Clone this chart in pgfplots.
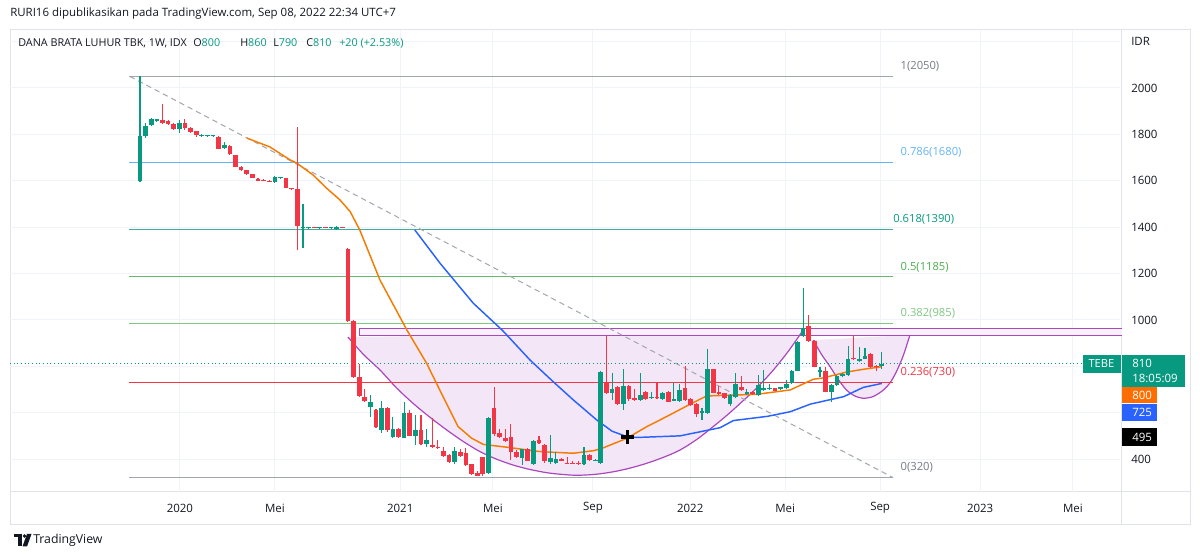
\documentclass[border=0pt]{standalone}
\usepackage{fontspec}
\setmainfont{Open Sans}
\usepackage{pgfplots}
\usepackage{pgfplotstable}
\pgfplotsset{compat=1.18}
\definecolor{tvgreen}{HTML}{089981}
\definecolor{tvred}{HTML}{F23645}
\definecolor{tvorange}{HTML}{F57C00}
\definecolor{tvorangebox}{HTML}{FF6D00}
\definecolor{tvblue}{HTML}{2962FF}
\definecolor{tvtext}{HTML}{131722}
\definecolor{fibgray}{HTML}{A3A6AE}
\definecolor{fibgraytxt}{HTML}{787B86}
\definecolor{fibblue}{HTML}{64B5F6}
\definecolor{fibteal}{HTML}{3FAE9E}
\definecolor{fibtealtxt}{HTML}{089981}
\definecolor{fibgreen}{HTML}{66BB6A}
\definecolor{fibgreentxt}{HTML}{4CAF50}
\definecolor{fiblgreen}{HTML}{81C784}
\definecolor{tvpurple}{HTML}{AB47BC}
\definecolor{lav}{HTML}{F3E6F6}
\definecolor{gridc}{HTML}{F0F3FA}
\definecolor{bordc}{HTML}{E0E3EB}

\pgfplotstableread{
i o h l c
0 1600 2050 1595 1795
1 1793 1850 1785 1835
2 1840 1872 1835 1865
3 1859 1868 1855 1866
7 1825 1860 1807 1848
11 1794 1800 1790 1798
12 1792 1797 1789 1796
13 1793 1797 1790 1797
15 1740 1767 1738 1756
24 1595 1620 1592 1618
25 1611 1615 1609 1615
29 1397 1500 1310 1402
30 1396 1401 1394 1400
32 1395 1400 1393 1399
34 1396 1400 1394 1400
35 1390 1404 1388 1402
41 623 675 580 648
43 525 650 514 622
45 494 580 490 530
47 492 648 490 600
49 501 590 461 525
51 464 528 453 482
56 388 450 380 436
62 339 580 335 578
68 403 445 375 442
70 379 482 375 478
73 386 505 380 403
74 385 430 380 400
79 378 453 375 418
81 392 400 390 397
82 385 780 380 777
84 686 773 655 702
86 637 790 612 715
89 655 773 650 676
91 662 690 660 667
93 660 690 655 686
95 652 727 650 657
96 650 725 645 698
100 597 618 570 608
101 600 873 595 787
105 637 680 630 676
106 669 773 665 724
108 682 700 678 690
110 676 762 670 719
111 698 784 695 705
112 701 725 698 706
114 701 712 698 709
115 705 740 700 724
116 728 785 725 781
117 781 910 778 906
118 931 1137 925 964
121 777 797 755 782
123 691 722 648 719
124 719 762 715 758
125 757 770 752 767
126 762 888 758 833
128 822 885 818 833
129 833 880 830 845
132 800 860 790 810
}\upc

\pgfplotstableread{
i o h l c
4 1860 1930 1845 1850
5 1856 1860 1840 1845
6 1845 1848 1820 1825
8 1848 1868 1820 1826
9 1826 1830 1808 1812
10 1813 1815 1788 1796
14 1790 1792 1735 1737
16 1752 1754 1712 1714
17 1710 1712 1658 1660
18 1660 1662 1644 1646
19 1646 1648 1626 1628
20 1628 1630 1610 1612
21 1609 1611 1598 1601
22 1605 1607 1598 1600
23 1601 1603 1595 1597
26 1612 1614 1568 1570
27 1568 1569 1562 1564
28 1566 1830 1300 1405
31 1400 1402 1395 1396
33 1400 1402 1395 1396
36 1400 1402 1395 1396
37 1305 1308 990 995
38 995 998 750 752
39 752 812 668 672
40 668 700 646 650
42 612 615 535 537
44 622 625 517 525
46 530 533 490 494
48 600 612 498 501
50 525 590 460 465
52 461 576 449 451
53 452 482 445 448
54 436 453 410 413
55 418 420 385 388
57 432 445 410 413
58 425 448 370 374
59 377 380 330 335
60 339 350 325 328
61 408 410 325 335
63 622 712 500 508
64 511 530 490 494
65 490 530 475 478
66 497 550 396 432
67 432 440 405 410
69 442 448 390 393
71 482 500 465 468
72 461 465 385 390
75 402 405 390 393
76 384 408 378 380
77 384 390 377 380
78 385 390 376 378
80 416 420 393 396
83 727 930 680 686
85 712 715 633 637
87 715 718 650 660
88 662 700 652 655
90 689 692 655 660
92 666 730 660 662
94 689 692 645 648
97 705 800 652 655
98 659 662 630 633
99 637 640 580 594
102 787 790 683 686
103 690 715 678 680
104 683 686 658 662
107 712 760 695 698
109 690 693 678 681
113 705 708 692 695
119 975 1022 905 909
120 909 912 795 798
122 780 795 688 691
127 835 935 826 830
130 852 856 793 797
131 800 805 780 795
}\dnc

\pgfplotsset{
  wick/.style={draw=none, mark=none, forget plot, error bars/.cd, y dir=plus, y explicit, error mark=none, error bar style={line width=0.8pt, draw=#1}},
  body/.style={draw=none, mark=none, forget plot, error bars/.cd, y dir=plus, y explicit, error mark=none, error bar style={line width=3.5pt, draw=#1}},
}

\begin{document}
\begin{tikzpicture}
\path[use as bounding box] (0,0) rectangle (900pt,417.75pt);
\fill[white] (0,0) rectangle (900pt,417.75pt);
\begin{scope}[shift={(0pt,417.75pt)}, x=0.75pt, y=-0.75pt]
  \draw[bordc, line width=0.75pt] (10,30) rectangle (1190,525);
  \draw[bordc, line width=0.75pt] (10,492) -- (1190,492);
  \draw[bordc, line width=0.75pt] (1121,30) -- (1121,525);
\end{scope}

\begin{axis}[
  at={(7.5pt,48.75pt)}, anchor=south west,
  scale only axis, width=832.5pt, height=346.5pt,
  xmin=-23.13, xmax=174.38, ymin=257.9, ymax=2250.1,
  axis line style={draw=none},
  clip=false,
  xtick={7.1,24.0,46.3,62.8,80.6,97.9,114.8,131.7,149.5,166.0},
  xticklabels={2020,Mei,2021,Mei,Sep,2022,Mei,Sep,2023,Mei},
  ytick={400,600,...,2200},
  yticklabels={400,,,1000,1200,1400,1600,1800,2000,IDR},
  yticklabel pos=right,
  major tick length=0pt,
  xmajorgrids, ymajorgrids,
  grid style={gridc, line width=0.75pt},
  tick label style={font=\fontsize{8.6}{10}\selectfont, text=tvtext},
  yticklabel style={anchor=west, inner sep=0pt, xshift=8.25pt},
  xticklabel style={anchor=center, inner sep=0pt, yshift=-12pt},
]
% cup fill
\addplot[draw=none, fill=lav, forget plot] coordinates {
(37.0,926) (39.8,850) (42.7,784) (45.6,708) (48.6,640) (51.6,580) (54.6,525) (57.5,476) (60.5,432) (63.4,400) (66.4,374) (69.4,355) (72.4,341) (75.0,334) (77.7,330) (81.0,334) (84.2,345) (87.2,361) (90.2,382) (93.2,408) (96.1,439) (99.1,485) (102.0,540) (104.4,588) (106.8,640) (109.8,708) (112.7,784) (115.4,866) (118.0,956)} -- cycle;
\addplot[draw=none, fill=lav, forget plot] coordinates {
(119.8,913) (121.3,850) (122.8,798) (124.2,745) (125.7,698) (127.2,672) (128.7,662) (130.5,670) (132.3,698) (133.5,730) (134.6,777) (135.8,845) (137.0,935)} -- cycle;
% rectangle
\addplot[tvpurple, line width=0.8pt, fill=lav!60, forget plot] coordinates {(174.7,962) (39.0,962) (39.0,932) (174.7,932)};
% arcs
\addplot[tvpurple, line width=0.9pt, smooth] coordinates {
(37.0,926) (39.8,850) (42.7,784) (45.6,708) (48.6,640) (51.6,580) (54.6,525) (57.5,476) (60.5,432) (63.4,400) (66.4,374) (69.4,355) (72.4,341) (75.0,334) (77.7,330) (81.0,334) (84.2,345) (87.2,361) (90.2,382) (93.2,408) (96.1,439) (99.1,485) (102.0,540) (104.4,588) (106.8,640) (109.8,708) (112.7,784) (115.4,866) (118.0,956)};
\addplot[tvpurple, line width=0.9pt, smooth] coordinates {
(119.8,913) (121.3,850) (122.8,798) (124.2,745) (125.7,698) (127.2,672) (128.7,662) (130.5,670) (132.3,698) (133.5,730) (134.6,777) (135.8,845) (137.0,935)};
% fib levels
\addplot[fibgray, line width=0.75pt] coordinates {(-2,2050) (134,2050)};
\addplot[fibblue, line width=0.75pt] coordinates {(-2,1680) (134,1680)};
\addplot[fibteal, line width=0.75pt] coordinates {(-2,1390) (134,1390)};
\addplot[fibgreen, line width=0.75pt] coordinates {(-2,1185) (134,1185)};
\addplot[fiblgreen, line width=0.75pt] coordinates {(-2,985) (134,985)};
\addplot[tvred, line width=0.75pt] coordinates {(-2,730) (134,730)};
\addplot[fibgray, line width=0.75pt] coordinates {(-2,320) (134,320)};
\begin{scope}[every node/.style={anchor=base west, inner sep=0pt, font=\fontsize{8.4}{10}\selectfont}]
\node[text=fibgraytxt] at (axis cs:135.3,2050) [yshift=5pt] {1(2050)};
\node[text=fibblue] at (axis cs:135.3,1680) [yshift=5pt] {0.786(1680)};
\node[text=fibtealtxt] at (axis cs:134.0,1390) [yshift=5pt] {0.618(1390)};
\node[text=fibgreentxt] at (axis cs:135.3,1185) [yshift=5pt] {0.5(1185)};
\node[text=fiblgreen] at (axis cs:135.3,985) [yshift=5pt] {0.382(985)};
\node[text=tvred] at (axis cs:135.3,730) [yshift=5pt] {0.236(730)};
\node[text=fibgraytxt] at (axis cs:135.3,320) [yshift=5pt] {0(320)};
\end{scope}
% trend line
\addplot[fibgray, line width=0.75pt, dash pattern=on 4pt off 3pt] coordinates {(-1.8,2050) (134,320)};
% current price dotted
\addplot[tvgreen, line width=0.75pt, dotted] coordinates {(-23.13,810) (167.8,810)};
% moving averages
\addplot[tvorange, line width=1.1pt] coordinates {
(19.0,1784) (23.1,1746) (26.7,1690) (27.9,1676) (30.8,1625) (33.2,1568) (35.6,1517) (37.4,1467) (39.1,1388) (42.7,1172) (47.5,956) (51.0,813) (53.4,695) (56.6,540) (59.0,490) (61.1,463) (65.3,451) (71.2,432) (77.1,425) (80.7,436) (82.2,446) (86.6,489) (90.2,540) (93.7,583) (97.3,629) (100.8,672) (103.2,674) (109.7,679) (115.7,698) (119.8,744) (121.6,750) (125.7,775) (128.7,787) (132,798)};
\addplot[tvblue, line width=1.1pt] coordinates {
(48.9,1388) (53.4,1244) (59.3,1072) (64.4,957) (65.8,921) (69.4,827) (73.5,734) (77.1,655) (81.3,568) (84.0,520) (86.6,497) (88.4,493) (96.1,500) (103.2,535) (105.6,566) (111.6,584) (115.7,604) (119.3,637) (125.2,669) (128.7,709) (132,726)};
% candles: wicks
\addplot[wick=tvgreen] table[x=i, y=l, y error plus expr={\thisrow{h}-\thisrow{l}}] {\upc};
\addplot[wick=tvred] table[x=i, y=l, y error plus expr={\thisrow{h}-\thisrow{l}}] {\dnc};
% candles: bodies
\addplot[body=tvgreen] table[x=i, y=o, y error plus expr={\thisrow{c}-\thisrow{o}}] {\upc};
\addplot[body=tvred] table[x=i, y=c, y error plus expr={\thisrow{o}-\thisrow{c}}] {\dnc};
% cross marker
\addplot[draw=none, mark=+, mark size=5pt, mark options={line width=2.4pt, draw=black}] coordinates {(86.8,495)};
\end{axis}

\begin{scope}[shift={(0pt,417.75pt)}, x=0.75pt, y=-0.75pt]
  \node[anchor=west, inner sep=0pt, text=tvtext, font=\fontsize{8.6}{10}\selectfont] at (10,14) {RURI16 dipublikasikan pada TradingView.com, Sep 08, 2022 22:34 UTC+7};
  \begin{scope}[every node/.style={anchor=west, inner sep=0pt, text=tvtext, font=\fontsize{8.1}{10}\selectfont}]
  \node at (18,43) {DANA BRATA LUHUR TBK, 1W, IDX};
  \node at (193,43) {O\textcolor{tvgreen}{800}};
  \node at (240,43) {H\textcolor{tvgreen}{860}};
  \node at (273,43) {L\textcolor{tvgreen}{790}};
  \node at (306,43) {C\textcolor{tvgreen}{810}};
  \node[text=tvgreen] at (339,43) {+20 (+2.53\%)};
  \end{scope}
  % right labels
  \fill[tvgreen] (1083,355) rectangle (1120.5,373);
  \node[text=white, font=\fontsize{8.4}{10}\selectfont, inner sep=0pt] at (1101.5,364) {TEBE};
  \fill[tvgreen] (1121.5,355) rectangle (1185,387);
  \begin{scope}[every node/.style={anchor=west, inner sep=0pt, text=white, font=\fontsize{8.6}{10}\selectfont}]
  \node at (1132,363.5) {810};
  \node at (1132,378.5) {18:05:09};
  \end{scope}
  \fill[tvorangebox] (1121.5,387.5) rectangle (1157,403.5);
  \fill[tvblue] (1121.5,404) rectangle (1157,421);
  \fill[black] (1121.5,428) rectangle (1157,446);
  \begin{scope}[every node/.style={anchor=west, inner sep=0pt, text=white, font=\fontsize{8.6}{10}\selectfont}]
  \node at (1132,395.5) {800};
  \node at (1132,412.5) {725};
  \node at (1132,437) {495};
  \end{scope}
  % TradingView logo
  \fill[tvtext] (13.5,534) rectangle (21.5,537.5);
  \fill[tvtext] (17.5,534) rectangle (21.5,546.5);
  \fill[tvtext] (24.5,536) circle (1.9);
  \fill[tvtext] (27,534) -- (31.5,534) -- (27,546.5) -- (22.5,546.5) -- cycle;
  \node[anchor=west, inner sep=0pt, text=tvtext, font=\fontsize{9.2}{10}\selectfont] at (33,540.5) {TradingView};
\end{scope}
\end{tikzpicture}
\end{document}
